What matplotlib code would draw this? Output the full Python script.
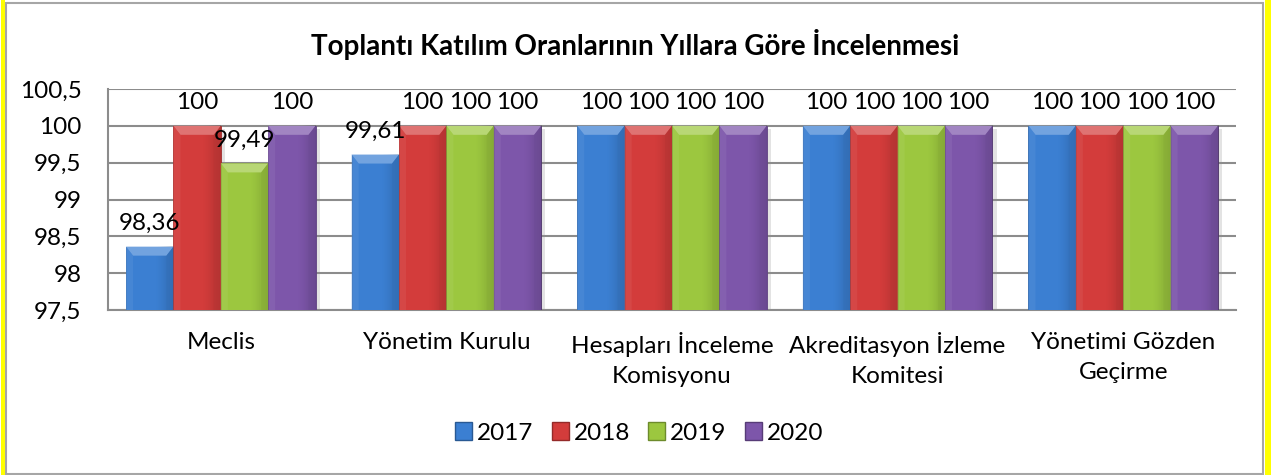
import matplotlib.pyplot as plt
import numpy as np
from matplotlib.patches import Rectangle, Patch, Polygon
from matplotlib import patheffects as pe
from matplotlib.colors import to_rgb

categories = ['Meclis', 'Yönetim Kurulu', 'Hesapları İnceleme\nKomisyonu',
              'Akreditasyon İzleme\nKomitesi', 'Yönetimi Gözden\nGeçirme']
years = ['2017', '2018', '2019', '2020']
rates_2017 = [98.36, 99.61, 100, 100, 100]
rates_2018 = [100, 100, 100, 100, 100]
rates_2019 = [99.49, 100, 100, 100, 100]
rates_2020 = [100, 100, 100, 100, 100]
y_ticks = [97.5, 98, 98.5, 99, 99.5, 100, 100.5]
colors = ['#3b7fd2', '#d33c3b', '#9cc73f', '#7d56aa']

series = [rates_2017, rates_2018, rates_2019, rates_2020]

plt.rcParams['font.family'] = ['Lato', 'DejaVu Sans']
FS = 17.5

W, H = 1271, 475
fig = plt.figure(figsize=(W / 100, H / 100), dpi=100)
fig.patch.set_facecolor('white')

# frame: grey border with yellow strips on the sides
fig.patches.append(Rectangle((6 / W, 1 / H), (1263 - 6) / W, (472 - 1) / H,
                             transform=fig.transFigure, fill=False,
                             edgecolor='#a6a6a6', lw=1.5))
fig.patches.append(Rectangle((1 / W, 0), 4 / W, 1, transform=fig.transFigure,
                             facecolor='#ffff00', edgecolor='none'))
fig.patches.append(Rectangle((1265 / W, 0), 6 / W, 1, transform=fig.transFigure,
                             facecolor='#ffff00', edgecolor='none'))

ax = fig.add_axes([108 / W, 1 - 310 / H, (1236 - 108) / W, (310 - 89) / H])
ax.set_xlim(-0.5, len(categories) - 0.5)
ax.set_ylim(97.5, 100.5)

width = 0.21
x = np.arange(len(categories))
fig.canvas.draw()
inv = ax.transData.inverted()
p0 = inv.transform((0, 0))
p1 = inv.transform((1, 1))
dx_px, dy_px = p1[0] - p0[0], p1[1] - p0[1]


def mix(c, other, t):
    c = np.array(to_rgb(c))
    return tuple(c * (1 - t) + np.array(other) * t)


for i, (vals, col) in enumerate(zip(series, colors)):
    xs = x + (i - 1.5) * width
    bars = ax.bar(xs, np.array(vals) - 97.5, width, bottom=97.5, color=col,
                  edgecolor=mix(col, (0, 0, 0), 0.25), lw=0.6, zorder=3)
    for b, v in zip(bars, vals):
        b.set_path_effects([pe.SimplePatchShadow(offset=(3, -2), shadow_rgbFace='#909090', alpha=0.25),
                            pe.Normal()])
        x0, x1 = b.get_x(), b.get_x() + b.get_width()
        top = v
        # horizontal shading
        grad = np.zeros((1, 64, 4))
        t = np.linspace(-1, 1, 64)
        grad[0, :, 3] = 0.18 * np.clip((t - 0.2) / 0.8, 0, 1) ** 1.5
        ax.imshow(grad, extent=(x0, x1, 97.5, top), aspect='auto', zorder=4,
                  clip_path=b, interpolation='bilinear')
        # top bevel
        bh = 9 * dy_px
        bw = 7 * dx_px
        ax.add_patch(Polygon([(x0, top), (x1, top), (x1 - bw, top - bh), (x0 + bw, top - bh)],
                             closed=True, facecolor=mix(col, (1, 1, 1), 0.28),
                             edgecolor='none', zorder=5))
        # side bevels
        ax.add_patch(Polygon([(x0, top), (x0 + bw, top - bh), (x0 + bw, 97.5), (x0, 97.5)],
                             closed=True, facecolor=mix(col, (1, 1, 1), 0.1),
                             edgecolor='none', zorder=5, alpha=0.6))
        ax.add_patch(Polygon([(x1, top), (x1 - bw, top - bh), (x1 - bw, 97.5), (x1, 97.5)],
                             closed=True, facecolor=mix(col, (0, 0, 0), 0.12),
                             edgecolor='none', zorder=5, alpha=0.6))
        label = f'{v:g}'.replace('.', ',')
        ax.annotate(label, (b.get_x() + b.get_width() / 2, top), xytext=(0, 12),
                    textcoords='offset points', ha='center', va='baseline',
                    fontsize=FS, zorder=6)

ax.set_yticks(y_ticks)
ax.set_yticklabels([f'{t:g}'.replace('.', ',') for t in y_ticks])
ax.set_xticks(x)
ax.set_xticklabels(categories, linespacing=1.5)
ax.tick_params(axis='both', length=0, labelsize=FS)
ax.tick_params(axis='x', pad=16)
ax.tick_params(axis='y', pad=19)
ax.yaxis.grid(True, color='#8c8c8c', lw=1.5, zorder=0)
ax.set_axisbelow(True)
for s in ['top', 'right']:
    ax.spines[s].set_visible(False)
for s in ['left', 'bottom']:
    ax.spines[s].set_color('#8c8c8c')
    ax.spines[s].set_linewidth(1.5)

fig.text(0.5, 1 - 45 / H, 'Toplantı Katılım Oranlarının Yıllara Göre İncelenmesi',
         ha='center', va='center', fontsize=20, fontweight='bold')

handles = [Patch(facecolor=c, edgecolor=mix(c, (0, 0, 0), 0.3)) for c in colors]
fig.legend(handles, years, loc='center', bbox_to_anchor=(0.503, 1 - 433 / H),
           ncol=4, frameon=False, fontsize=FS, handlelength=0.7, handleheight=0.7,
           handletextpad=0.2, columnspacing=0.75)

fig.savefig('out.png', dpi=100)
